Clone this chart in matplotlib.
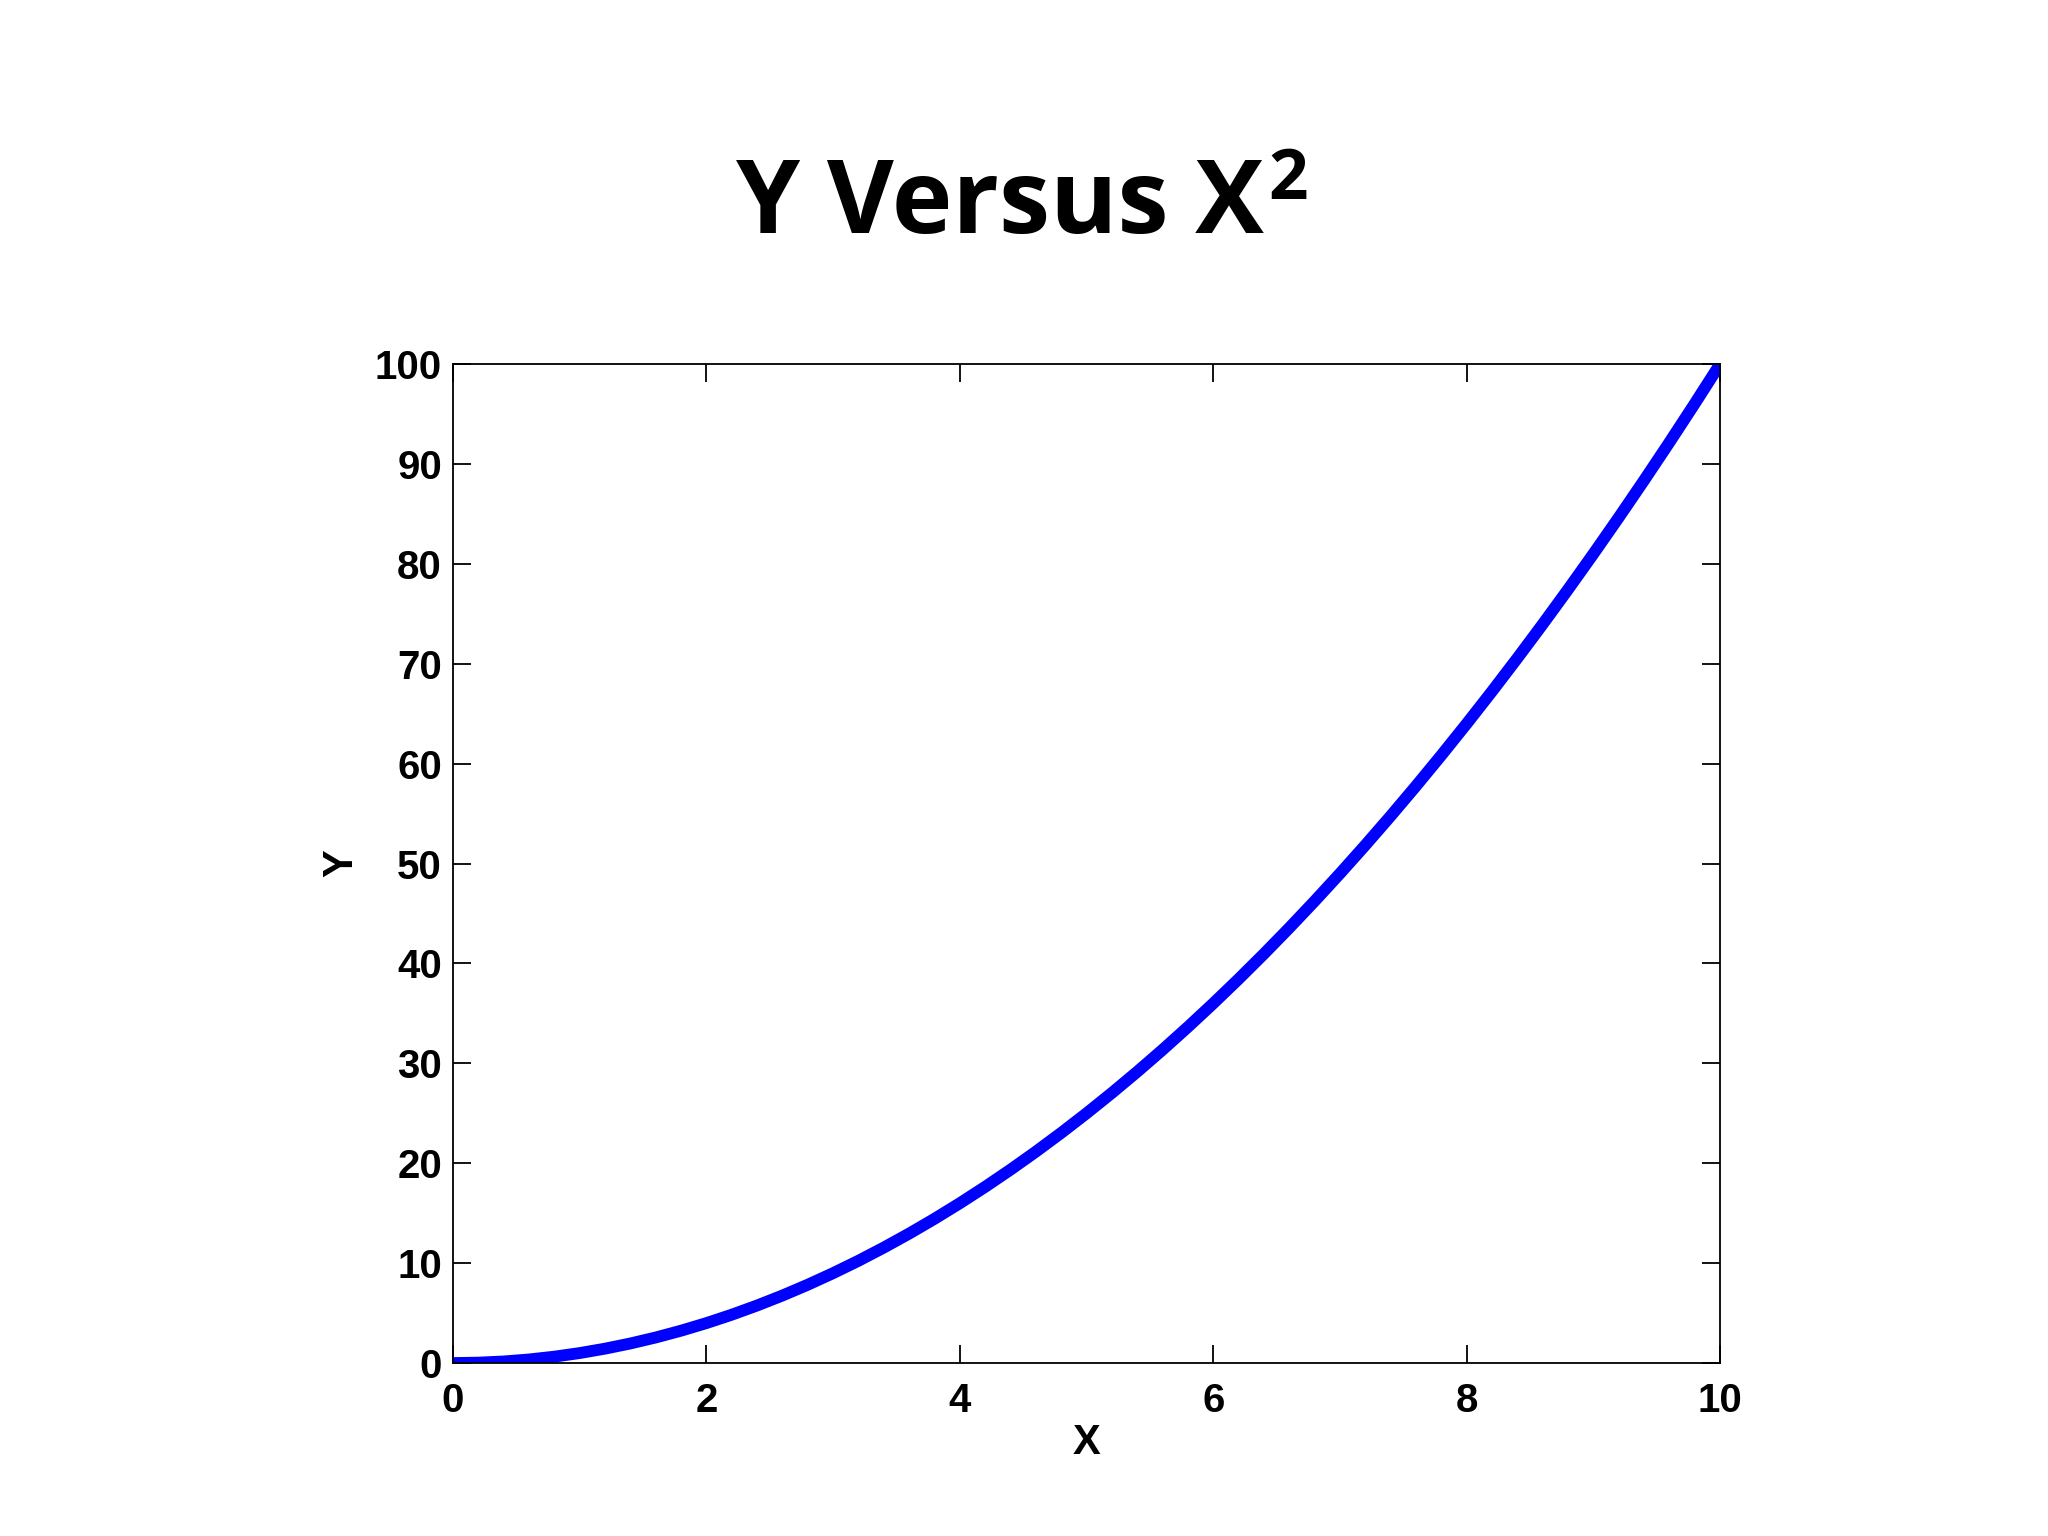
import matplotlib
matplotlib.use('Agg')
import matplotlib.pyplot as plt

# values
x_vals = [0.0, 0.2, 0.4, 0.6, 0.8, 1.0, 1.2, 1.4, 1.6, 1.8,
          2.0, 2.2, 2.4, 2.6, 2.8, 3.0, 3.2, 3.4, 3.6, 3.8,
          4.0, 4.2, 4.4, 4.6, 4.8, 5.0, 5.2, 5.4, 5.6, 5.8,
          6.0, 6.2, 6.4, 6.6, 6.8, 7.0, 7.2, 7.4, 7.6, 7.8,
          8.0, 8.2, 8.4, 8.6, 8.8, 9.0, 9.2, 9.4, 9.6, 9.8, 10.0]
y_vals = [0.0, 0.04, 0.16, 0.36, 0.64, 1.0, 1.44, 1.96, 2.56, 3.24,
          4.0, 4.84, 5.76, 6.76, 7.84, 9.0, 10.24, 11.56, 12.96, 14.44,
          16.0, 17.64, 19.36, 21.16, 23.04, 25.0, 27.04, 29.16, 31.36, 33.64,
          36.0, 38.44, 40.96, 43.56, 46.24, 49.0, 51.84, 54.76, 57.76, 60.84,
          64.0, 67.24, 70.56, 73.96, 77.44, 81.0, 84.64, 88.36, 92.16, 96.04, 100.0]
x_ticks = [0, 2, 4, 6, 8, 10]
y_ticks = [0, 10, 20, 30, 40, 50, 60, 70, 80, 90, 100]

plt.rcParams['font.family'] = ['Liberation Sans', 'DejaVu Sans']

fig = plt.figure(figsize=(20.48, 15.36), dpi=100)
ax = fig.add_axes([0.2212, 0.1126, 0.6187, 0.6504])

ax.plot(x_vals, y_vals, color='#0000ff', linewidth=8.5, solid_capstyle='round')
ax.set_xlim(0, 10)
ax.set_ylim(0, 100)
ax.set_xticks(x_ticks)
ax.set_yticks(y_ticks)
ax.tick_params(direction='in', length=13, width=1.3, top=True, right=True,
               labelsize=29)
ax.tick_params(axis='x', pad=14)
ax.tick_params(axis='y', pad=8)
for lab in ax.get_xticklabels() + ax.get_yticklabels():
    lab.set_fontweight('bold')
for s in ax.spines.values():
    s.set_linewidth(1.3)

ax.set_xlabel('X', fontsize=30, fontweight='bold', labelpad=2)
ax.set_ylabel('Y', fontsize=30, fontweight='bold', labelpad=10)

# title with a hand-placed superscript
W, H = fig.bbox.width, fig.bbox.height
base_y = 0.8486
main = fig.text(0, base_y, 'Y Versus X', ha='left', va='baseline',
                fontsize=74, fontweight='bold', family='Open Sans')
sup = fig.text(0, base_y + 34 / H, '2', ha='left', va='baseline',
               fontsize=50, fontweight='bold', family='Open Sans')
r = fig.canvas.get_renderer()
w_main = main.get_window_extent(r).width
w_sup = sup.get_window_extent(r).width
gap = 4
left = 1022 - (w_main + gap + w_sup) / 2
main.set_x(left / W)
sup.set_x((left + w_main + gap) / W)

fig.savefig('out.png', dpi=100, facecolor='white')
